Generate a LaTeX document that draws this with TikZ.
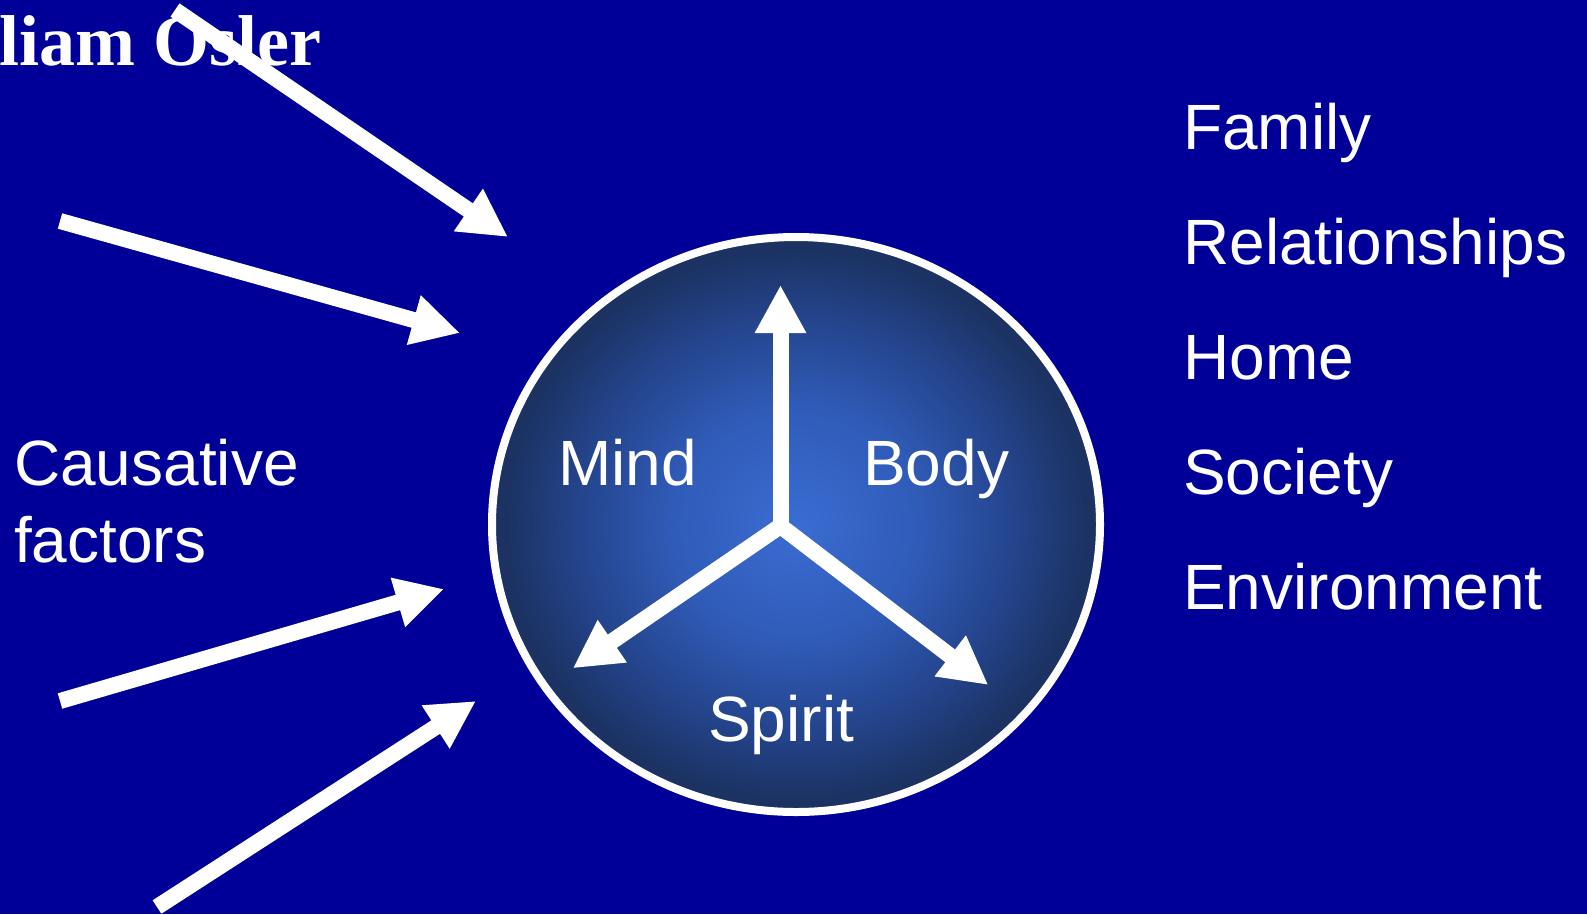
\documentclass[tikz,border=0pt]{standalone}
\usepackage{fontspec}
\setmainfont{Liberation Sans}
\newfontfamily\oslerfont{Liberation Serif}
\usetikzlibrary{arrows.meta}
\definecolor{slide}{RGB}{0,0,153}
\definecolor{orbin}{RGB}{58,108,210}
\definecolor{orbmid}{RGB}{48,92,185}
\definecolor{orbdim}{RGB}{36,68,140}
\definecolor{orbout}{RGB}{27,50,98}
\pgfdeclareradialshading{orb}{\pgfpoint{0bp}{0bp}}{color(0bp)=(orbin); color(10bp)=(orbmid); color(18bp)=(orbdim); color(24bp)=(orbout); color(50bp)=(orbout)}
\tikzset{
	push/.style={white, line width=16pt, -{Triangle[length=48pt,width=48pt]}},
	word/.style={white, anchor=base west, inner sep=0pt, font=\fontsize{64}{64}\selectfont},
}
\begin{document}
\begin{tikzpicture}[x=1pt,y=-1pt]
	\useasboundingbox (0,0) rectangle (1587,914);
	\clip (0,0) rectangle (1587,914);
	\fill[slide] (0,0) rectangle (1587,914);
	% title, cut at the left edge
	\node[word, font=\oslerfont\bfseries\fontsize{72}{72}\selectfont] (osler) at (-1,65) {liam Osler};
	% causes on the left
	\node[word] (causes) at (14,485) {Causative};
	\node[word] (factors) at (14,562) {factors};
	\coordinate (from1) at (175,10);  \coordinate (to1) at (508,237);
	\coordinate (from2) at (60,221);  \coordinate (to2) at (460,333);
	\coordinate (from3) at (60,701);  \coordinate (to3) at (444,589);
	\coordinate (from4) at (157,907); \coordinate (to4) at (476,701);
	\draw[push] (from1) -- (to1);
	\draw[push] (from2) -- (to2);
	\draw[push] (from3) -- (to3);
	\draw[push] (from4) -- (to4);
	% the person
	\path[draw=white, line width=8pt, shading=orb] (796,524.5) ellipse [x radius=304pt, y radius=287.5pt];
	\coordinate (hub) at (780.5,526);
	\coordinate (up) at (780.5,285);
	\coordinate (downleft) at (572.7,668.3);
	\coordinate (downright) at (988.3,685);
	\draw[push] (hub) -- (up);
	\draw[push] (hub) -- (downleft);
	\draw[push] (hub) -- (downright);
	\node[word] (mind) at (558,485) {Mind};
	\node[word] (body) at (863,485) {Body};
	\node[word] (spirit) at (708,741) {Spirit};
	% surroundings on the right
	\node[word] (family) at (1183,149) {Family};
	\node[word] (relations) at (1183,264) {Relationships};
	\node[word] (home) at (1183,379) {Home};
	\node[word] (society) at (1183,494) {Society};
	\node[word] (environment) at (1183,609) {Environment};
\end{tikzpicture}
\end{document}
